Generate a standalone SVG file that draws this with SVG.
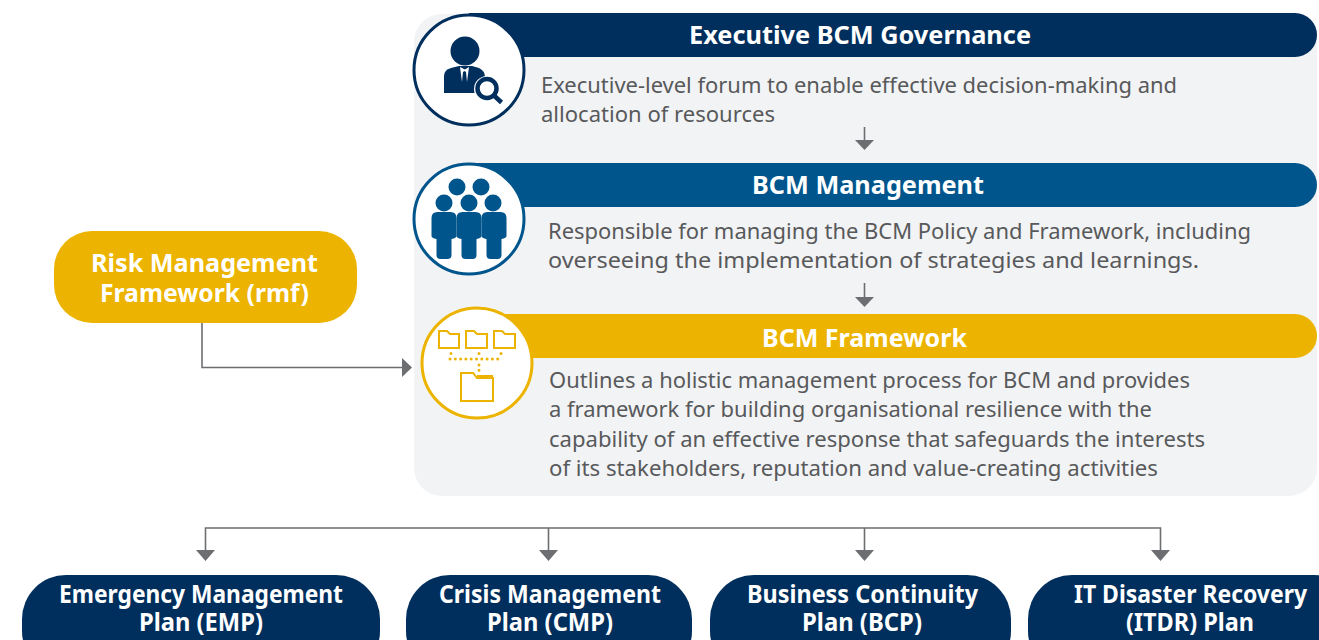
<svg xmlns="http://www.w3.org/2000/svg" width="1319" height="640" viewBox="0 0 1319 640">
<defs>
<style>
text{font-family:"Noto Sans","Open Sans","Liberation Sans",sans-serif}
.h{font-weight:700;font-size:25px;fill:#fff}
.b{font-size:21.500px;fill:#58595b}
.c{fill:none;stroke:#6d6e71;stroke-width:1.600}
.a{fill:#6d6e71}
.y{fill:none;stroke:#ecb400;stroke-width:2}
.dots{fill:none;stroke:#ecb400;stroke-width:3;stroke-linecap:round;stroke-dasharray:0 5.300}
.navy{fill:#002f5d}
.blue{fill:#00558c}
.gold{fill:#ecb400}
</style>
<path id="person" d="M6 212h13q6 0 6 6v18q0 2-5 3v16q0 4-4 4h-7q-4 0-4-4v-16q-5-1-5-3v-18q0-6 6-6z"/>
</defs>
<rect id="panel" x="414" y="14" width="903" height="482" rx="28" fill="#f2f3f5"/>
<g id="connectors">
<path class="c" d="M202 323V367.500H403"/><path class="a" d="M402 358l10 9.500-10 9.500z"/>
<path class="c" d="M864.500 127V141"/><path class="a" d="M855 140h19l-9.500 10z"/>
<path class="c" d="M864.500 283V297"/><path class="a" d="M855 297h19l-9.500 10z"/>
<path class="c" d="M205.500 552V528H1160.500V552M548.500 528V552M864.500 528V552"/>
<path class="a" d="M196 550h19l-9.500 11zM539 550h19l-9.500 11zM855 550h19l-9.500 11zM1151 550h19l-9.500 11z"/>
</g>
<g id="exec">
<path class="navy" d="M469 13H1295a22 22 0 0 1 0 44H469z"/>
<circle cx="469" cy="70" r="55" fill="#fff" stroke="#002f5d" stroke-width="3"/>
<circle class="navy" cx="465" cy="51" r="14.500"/>
<path class="navy" d="M444 93V76q0-6 7-8l8-2h13l7 2q6 3 6 9v16z"/>
<path d="M460 67l2 15 1-10 1.500-1 1.500 1 1 10 2-15-4 2.500z" fill="#fff"/>
<circle cx="487" cy="89" r="13" fill="#fff"/>
<circle cx="487" cy="88.500" r="9.500" fill="#fff" stroke="#002f5d" stroke-width="4.500"/>
<path d="M494 95.500l7.500 7" stroke="#002f5d" stroke-width="4.500" fill="none"/>
<text class="h" x="689" y="44" textLength="342" lengthAdjust="spacingAndGlyphs">Executive BCM Governance</text>
<text class="b" x="541" y="93" textLength="636" lengthAdjust="spacingAndGlyphs">Executive-level forum to enable effective decision-making and</text>
<text class="b" x="541" y="122" textLength="234" lengthAdjust="spacingAndGlyphs">allocation of resources</text>
</g>
<g id="mgmt">
<path class="blue" d="M469 163H1295a22 22 0 0 1 0 44H469z"/>
<circle cx="469" cy="219" r="55" fill="#fff" stroke="#00558c" stroke-width="3"/>
<g class="blue">
<circle cx="457" cy="187" r="8.500"/><circle cx="481" cy="187" r="8.500"/>
<circle cx="444" cy="203" r="8.500"/><circle cx="469" cy="203" r="8.500"/><circle cx="493" cy="203" r="8.500"/>
<use href="#person" x="431.500"/><use href="#person" x="456.500"/><use href="#person" x="481.500"/>
</g>
<text class="h" x="752" y="194" textLength="232" lengthAdjust="spacingAndGlyphs">BCM Management</text>
<text class="b" x="548" y="239" textLength="703" lengthAdjust="spacingAndGlyphs">Responsible for managing the BCM Policy and Framework, including</text>
<text class="b" x="548" y="268" textLength="651" lengthAdjust="spacingAndGlyphs">overseeing the implementation of strategies and learnings.</text>
</g>
<g id="framework">
<path class="gold" d="M477 314H1295a22 22 0 0 1 0 44H477z"/>
<circle cx="477" cy="363" r="55" fill="#fff" stroke="#ecb400" stroke-width="3"/>
<path class="y" d="M439 348V331h8l3 3h9v14zM466 348V331h8l3 3h10v14zM494 348V331h8l3 3h10v14zM461 401V373h12l4 5h16v23zM477 376h16"/>
<path class="dots" d="M450 359H503M451 353.500V354M479 353.500V354M501 353.500V354M479 365V372"/>
<text class="h" x="762" y="347" textLength="205" lengthAdjust="spacingAndGlyphs">BCM Framework</text>
<text class="b" x="549" y="388" textLength="641" lengthAdjust="spacingAndGlyphs">Outlines a holistic management process for BCM and provides</text>
<text class="b" x="549" y="417" textLength="603" lengthAdjust="spacingAndGlyphs">a framework for building organisational resilience with the</text>
<text class="b" x="549" y="447" textLength="656" lengthAdjust="spacingAndGlyphs">capability of an effective response that safeguards the interests</text>
<text class="b" x="549" y="476" textLength="609" lengthAdjust="spacingAndGlyphs">of its stakeholders, reputation and value-creating activities</text>
</g>
<g id="rmf">
<rect class="gold" x="54" y="231" width="303" height="92" rx="38"/>
<text class="h" x="91" y="272" textLength="227" lengthAdjust="spacingAndGlyphs">Risk Management</text>
<text class="h" x="100" y="302" textLength="209" lengthAdjust="spacingAndGlyphs">Framework (rmf)</text>
</g>
<g id="emp">
<rect class="navy" x="22" y="575" width="358" height="100" rx="44"/>
<text class="h" x="59" y="603" textLength="284" lengthAdjust="spacingAndGlyphs">Emergency Management</text>
<text class="h" x="139" y="631" textLength="124" lengthAdjust="spacingAndGlyphs">Plan (EMP)</text>
</g>
<g id="cmp">
<rect class="navy" x="406" y="575" width="286" height="100" rx="44"/>
<text class="h" x="439" y="603" textLength="222" lengthAdjust="spacingAndGlyphs">Crisis Management</text>
<text class="h" x="487" y="631" textLength="126" lengthAdjust="spacingAndGlyphs">Plan (CMP)</text>
</g>
<g id="bcp">
<rect class="navy" x="710" y="575" width="301" height="100" rx="44"/>
<text class="h" x="747" y="603" textLength="231" lengthAdjust="spacingAndGlyphs">Business Continuity</text>
<text class="h" x="802" y="631" textLength="120" lengthAdjust="spacingAndGlyphs">Plan (BCP)</text>
</g>
<g id="itdr">
<rect class="navy" x="1028" y="575" width="330" height="100" rx="44"/>
<text class="h" x="1074" y="603" textLength="233" lengthAdjust="spacingAndGlyphs">IT Disaster Recovery</text>
<text class="h" x="1126" y="631" textLength="128" lengthAdjust="spacingAndGlyphs">(ITDR) Plan</text>
</g>
</svg>
